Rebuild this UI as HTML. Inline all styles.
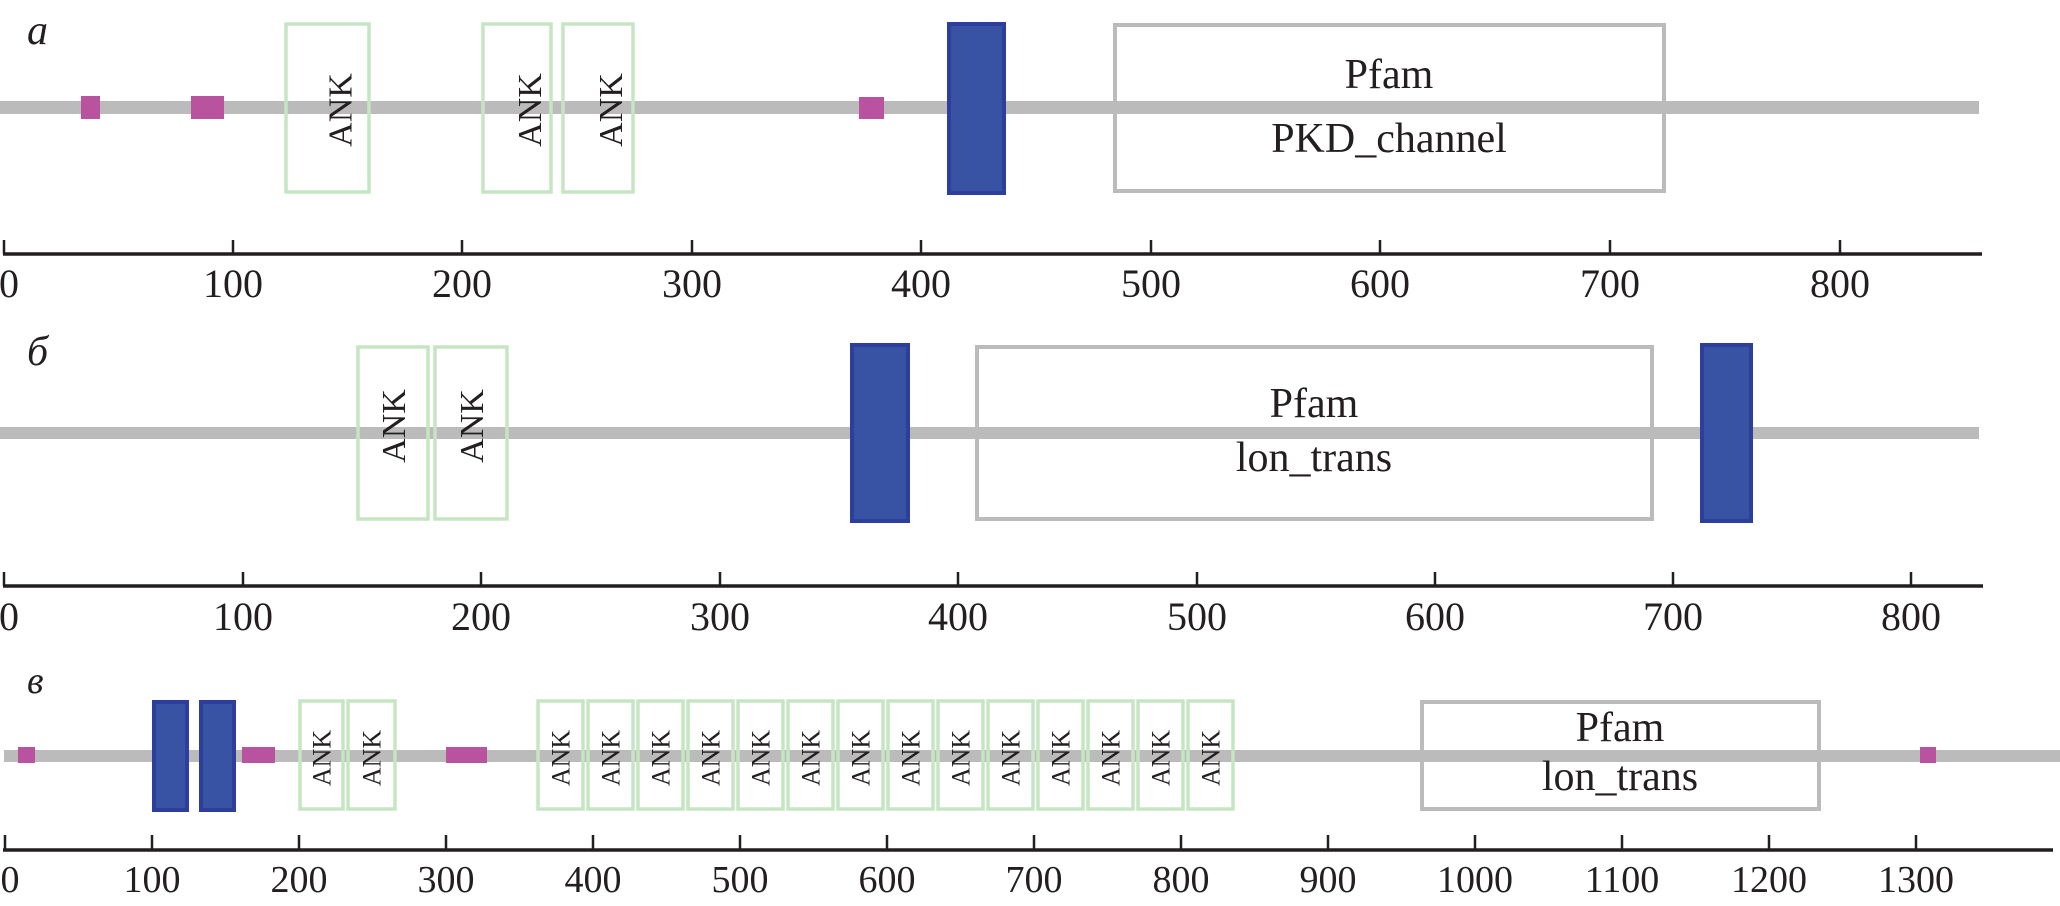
<!DOCTYPE html>
<html><head><meta charset="utf-8"><style>
html,body{margin:0;padding:0;background:#fff;}
svg{display:block;}
text{font-family:"Liberation Serif",serif;fill:#231f20;}
</style></head><body>
<svg width="2060" height="906" viewBox="0 0 2060 906" xmlns="http://www.w3.org/2000/svg">
<defs>
<style>
.bb{fill:#bbbbbb;}
.mg{fill:#b9539f;}
.bl{fill:#3953a4;stroke:#2e3e9c;stroke-width:4;}
.ank{fill:none;stroke:#c6e5c3;stroke-width:3.5;}
.pf{fill:none;stroke:#bbbbbb;stroke-width:4;}
.ax{stroke:#231f20;stroke-width:3.5;}
.tk{stroke:#231f20;stroke-width:2.5;}
.tl{font-size:40px;text-anchor:middle;}
.tlc{font-size:38px;text-anchor:middle;}
.pl{font-size:42px;font-style:italic;}
.pt{font-size:42px;text-anchor:middle;}
.ak{font-size:34px;text-anchor:middle;}
.akc{font-size:26px;text-anchor:middle;}
</style>
</defs>

<!-- Panel a -->
<text class="pl" x="27" y="44">a</text>
<rect class="bb" x="0" y="101" width="1979" height="13"/>
<rect class="mg" x="81" y="96" width="19" height="23"/>
<rect class="mg" x="191" y="96" width="33" height="23"/>
<rect class="mg" x="859" y="97" width="25" height="22"/>
<rect class="ank" x="286" y="24" width="83" height="168"/>
<rect class="ank" x="483" y="24" width="68" height="168"/>
<rect class="ank" x="563" y="24" width="70" height="168"/>
<text class="ak" transform="translate(339.5,110) rotate(-90)" y="12">ANK</text>
<text class="ak" transform="translate(529,110) rotate(-90)" y="12">ANK</text>
<text class="ak" transform="translate(610,110) rotate(-90)" y="12">ANK</text>
<rect class="bl" x="949" y="24" width="55" height="169"/>
<rect class="pf" x="1115" y="25" width="549" height="166"/>
<text class="pt" x="1389" y="88">Pfam</text>
<text class="pt" x="1389" y="152">PKD_channel</text>
<line class="ax" x1="3" y1="254" x2="1982" y2="254"/>
<g class="tk">
<line x1="4" y1="240" x2="4" y2="254"/><line x1="233" y1="240" x2="233" y2="254"/><line x1="462" y1="240" x2="462" y2="254"/><line x1="692" y1="240" x2="692" y2="254"/><line x1="921" y1="240" x2="921" y2="254"/><line x1="1151" y1="240" x2="1151" y2="254"/><line x1="1380" y1="240" x2="1380" y2="254"/><line x1="1610" y1="240" x2="1610" y2="254"/><line x1="1840" y1="240" x2="1840" y2="254"/>
</g>
<g class="tl">
<text x="9" y="297">0</text><text x="233" y="297">100</text><text x="462" y="297">200</text><text x="692" y="297">300</text><text x="921" y="297">400</text><text x="1151" y="297">500</text><text x="1380" y="297">600</text><text x="1610" y="297">700</text><text x="1840" y="297">800</text>
</g>

<!-- Panel b -->
<text class="pl" x="27" y="365">б</text>
<rect class="bb" x="0" y="427" width="1979" height="12"/>
<rect class="ank" x="358" y="347" width="70" height="172"/>
<rect class="ank" x="435" y="347" width="72" height="172"/>
<text class="ak" transform="translate(393,426) rotate(-90)" y="12">ANK</text>
<text class="ak" transform="translate(471,426) rotate(-90)" y="12">ANK</text>
<rect class="bl" x="852" y="345" width="56" height="176"/>
<rect class="pf" x="977" y="347" width="675" height="172"/>
<text class="pt" x="1314" y="417">Pfam</text>
<text class="pt" x="1314" y="471">lon_trans</text>
<rect class="bl" x="1702" y="345" width="49" height="176"/>
<line class="ax" x1="3" y1="586" x2="1983" y2="586"/>
<g class="tk">
<line x1="4" y1="572" x2="4" y2="586"/><line x1="243" y1="572" x2="243" y2="586"/><line x1="481" y1="572" x2="481" y2="586"/><line x1="720" y1="572" x2="720" y2="586"/><line x1="958" y1="572" x2="958" y2="586"/><line x1="1197" y1="572" x2="1197" y2="586"/><line x1="1435" y1="572" x2="1435" y2="586"/><line x1="1673" y1="572" x2="1673" y2="586"/><line x1="1911" y1="572" x2="1911" y2="586"/>
</g>
<g class="tl">
<text x="9" y="630">0</text><text x="243" y="630">100</text><text x="481" y="630">200</text><text x="720" y="630">300</text><text x="958" y="630">400</text><text x="1197" y="630">500</text><text x="1435" y="630">600</text><text x="1673" y="630">700</text><text x="1911" y="630">800</text>
</g>

<!-- Panel c -->
<text class="pl" x="27" y="693" style="font-size:38px">в</text>
<rect class="bb" x="4" y="750" width="2056" height="12"/>
<rect class="mg" x="18" y="747" width="17" height="16"/>
<rect class="mg" x="242" y="747" width="33" height="16"/>
<rect class="mg" x="446" y="747" width="41" height="16"/>
<rect class="mg" x="1920" y="747" width="16" height="16"/>
<rect class="bl" x="154" y="702" width="33" height="108"/>
<rect class="bl" x="201" y="702" width="33" height="108"/>
<g>
<rect class="ank" x="300" y="701" width="43" height="108"/>
<rect class="ank" x="348" y="701" width="47" height="108"/>
<text class="akc" transform="translate(321.5,758) rotate(-90)" y="9">ANK</text>
<text class="akc" transform="translate(371.5,758) rotate(-90)" y="9">ANK</text>
</g>
<g id="anks">
<rect class="ank" x="538" y="701" width="45" height="108"/><text class="akc" transform="translate(560.5,758) rotate(-90)" y="9">ANK</text>
<rect class="ank" x="588" y="701" width="45" height="108"/><text class="akc" transform="translate(610.5,758) rotate(-90)" y="9">ANK</text>
<rect class="ank" x="638" y="701" width="45" height="108"/><text class="akc" transform="translate(660.5,758) rotate(-90)" y="9">ANK</text>
<rect class="ank" x="688" y="701" width="45" height="108"/><text class="akc" transform="translate(710.5,758) rotate(-90)" y="9">ANK</text>
<rect class="ank" x="738" y="701" width="45" height="108"/><text class="akc" transform="translate(760.5,758) rotate(-90)" y="9">ANK</text>
<rect class="ank" x="788" y="701" width="45" height="108"/><text class="akc" transform="translate(810.5,758) rotate(-90)" y="9">ANK</text>
<rect class="ank" x="838" y="701" width="45" height="108"/><text class="akc" transform="translate(860.5,758) rotate(-90)" y="9">ANK</text>
<rect class="ank" x="888" y="701" width="45" height="108"/><text class="akc" transform="translate(910.5,758) rotate(-90)" y="9">ANK</text>
<rect class="ank" x="938" y="701" width="45" height="108"/><text class="akc" transform="translate(960.5,758) rotate(-90)" y="9">ANK</text>
<rect class="ank" x="988" y="701" width="45" height="108"/><text class="akc" transform="translate(1010.5,758) rotate(-90)" y="9">ANK</text>
<rect class="ank" x="1038" y="701" width="45" height="108"/><text class="akc" transform="translate(1060.5,758) rotate(-90)" y="9">ANK</text>
<rect class="ank" x="1088" y="701" width="45" height="108"/><text class="akc" transform="translate(1110.5,758) rotate(-90)" y="9">ANK</text>
<rect class="ank" x="1138" y="701" width="45" height="108"/><text class="akc" transform="translate(1160.5,758) rotate(-90)" y="9">ANK</text>
<rect class="ank" x="1188" y="701" width="45" height="108"/><text class="akc" transform="translate(1210.5,758) rotate(-90)" y="9">ANK</text>
</g>
<rect class="pf" x="1422" y="702" width="397" height="107"/>
<text class="pt" x="1620" y="741">Pfam</text>
<text class="pt" x="1620" y="790">lon_trans</text>
<line class="ax" x1="3" y1="850" x2="2053" y2="850"/>
<g class="tk">
<line x1="5" y1="835" x2="5" y2="850"/><line x1="152" y1="835" x2="152" y2="850"/><line x1="299" y1="835" x2="299" y2="850"/><line x1="446" y1="835" x2="446" y2="850"/><line x1="593" y1="835" x2="593" y2="850"/><line x1="740" y1="835" x2="740" y2="850"/><line x1="887" y1="835" x2="887" y2="850"/><line x1="1034" y1="835" x2="1034" y2="850"/><line x1="1181" y1="835" x2="1181" y2="850"/><line x1="1328" y1="835" x2="1328" y2="850"/><line x1="1475" y1="835" x2="1475" y2="850"/><line x1="1622" y1="835" x2="1622" y2="850"/><line x1="1769" y1="835" x2="1769" y2="850"/><line x1="1916" y1="835" x2="1916" y2="850"/>
</g>
<g class="tlc">
<text x="10" y="892">0</text><text x="152" y="892">100</text><text x="299" y="892">200</text><text x="446" y="892">300</text><text x="593" y="892">400</text><text x="740" y="892">500</text><text x="887" y="892">600</text><text x="1034" y="892">700</text><text x="1181" y="892">800</text><text x="1328" y="892">900</text><text x="1475" y="892">1000</text><text x="1622" y="892">1100</text><text x="1769" y="892">1200</text><text x="1916" y="892">1300</text>
</g>
</svg>
</body></html>
